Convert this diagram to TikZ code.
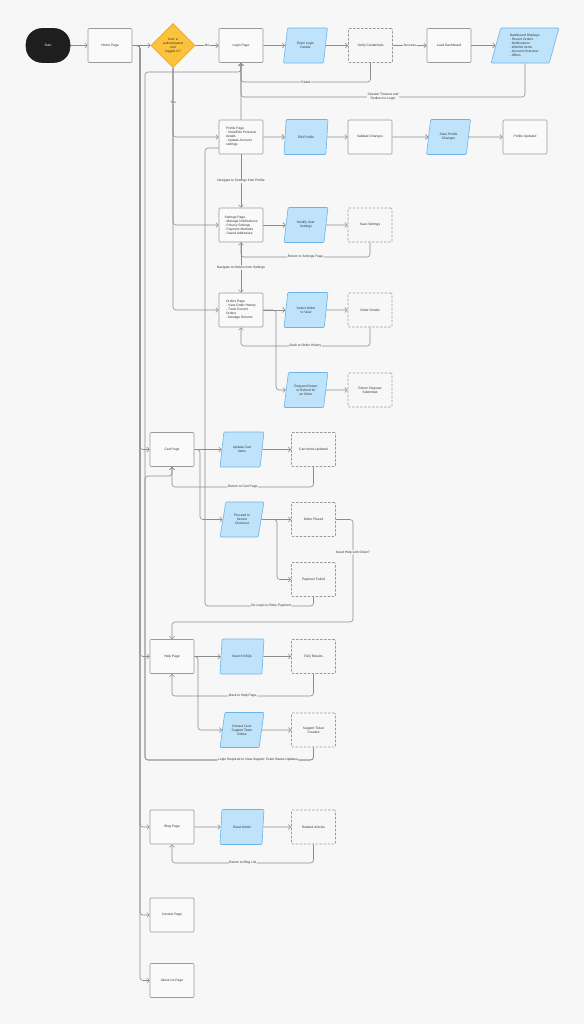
\documentclass[tikz,border=0pt]{standalone}
\usepackage{fontspec}
\setmainfont{Liberation Sans}
\usetikzlibrary{shapes.geometric,arrows.meta}
\pgfdeclarelayer{canvas}
\pgfdeclarelayer{edges}
\pgfsetlayers{canvas,edges,main}
\definecolor{bgc}{HTML}{F7F7F7}
\definecolor{boxf}{HTML}{FAFAFA}
\definecolor{boxc}{HTML}{9A9A9A}
\definecolor{iof}{HTML}{BEE3FA}
\definecolor{ioc}{HTML}{6CB4E8}
\definecolor{decf}{HTML}{FBC23B}
\definecolor{decc}{HTML}{EBA722}
\definecolor{startc}{HTML}{1E1E1E}
\definecolor{edgec}{HTML}{8C8C8C}
\definecolor{txt}{HTML}{333333}
\newcommand\diafont{\fontsize{3.3}{4}\selectfont}
\begin{document}
\begin{tikzpicture}[x=1pt,y=-1pt,
  box/.style={draw=boxc, fill=boxf, line width=0.6pt, rounded corners=1pt,
    minimum width=44pt, minimum height=34pt, inner sep=1pt, font=\diafont,
    text=txt, align=center},
  lbox/.style={box, align=left},
  dbox/.style={box, fill=bgc, dash pattern=on 2.5pt off 1.5pt},
  startnode/.style={box, fill=startc, draw=startc, text=white, rounded corners=16pt},
  io/.style={trapezium, trapezium left angle=75, trapezium right angle=105,
    trapezium stretches=true, draw=ioc, fill=iof, line width=0.6pt,
    rounded corners=1pt, minimum width=44pt, minimum height=35pt,
    inner sep=0.5pt, font=\diafont, align=center, text=txt},
  dec/.style={diamond, aspect=1, draw=decc, fill=decf, line width=0.6pt,
    minimum width=44pt, minimum height=44pt, inner sep=0pt, font=\diafont,
    align=center, text=txt},
  edge/.style={draw=edgec, line width=0.6pt, rounded corners=3pt,
    -{Straight Barb[length=2.5pt,width=5pt]}},
  lbl/.style={fill=bgc, inner sep=0.6pt, font=\diafont, text=txt, align=center}]
\useasboundingbox (0,0) rectangle (584,1024);
\begin{pgfonlayer}{canvas}
\fill[bgc] (0,0) rectangle (584,1024);
\end{pgfonlayer}

% top row
\node[startnode] (start) at (48,45.5) {Start};
\node[box] (home) at (110,45.5) {Home Page};
\node[dec] (dec) at (173,45.5) {User is\\authenticated\\and\\logged in?};
\node[box] (login) at (241,45.5) {Login Page};
\node[io] (creds) at (305.5,45.5) {Enter Login\\Details};
\node[dbox] (verify) at (370.5,45.5) {Verify Credentials};
\node[box] (loaddash) at (449,45.5) {Load Dashboard};
\node[io, minimum width=68pt, align=left] (dashlist) at (525,45.5)
  {Dashboard Displays:\\ - Recent Orders\\- Notifications\\- Wishlist Items\\- Account Overview\\ - Offers};

% profile row
\node[lbox] (profile) at (241,137) {Profile Page\\- View/Edit Personal\\details\\- Update Account\\settings};
\node[io] (editprof) at (306,137) {Edit Profile};
\node[box] (validate) at (370,137) {Validate Changes};
\node[io] (saveprof) at (448.5,137) {Save Profile\\Changes};
\node[box] (updated) at (525,137) {Profile Updated};

% settings row
\node[lbox] (settings) at (241,225) {Settings Page\\- Manage Notifications\\- Privacy Settings\\- Payment Methods\\- Saved Addresses};
\node[io] (modify) at (306,225) {Modify User\\Settings};
\node[dbox] (saveset) at (370,225) {Save Settings};

% orders row
\node[lbox] (orders) at (241,310) {Orders Page\\- View Order History\\- Track Current\\Orders\\- Manage Returns};
\node[io] (select) at (306,310) {Select Order\\to View};
\node[dbox] (details) at (370,310) {Order Details};
\node[io] (returnreq) at (306,390) {Request Return\\or Refund for\\an Order};
\node[dbox] (submitted) at (370,390) {Return Request\\Submitted};

% cart row
\node[box] (cart) at (172,449.5) {Cart Page};
\node[io] (update) at (242,449.5) {Update Cart\\Items};
\node[dbox] (cartupd) at (313.5,449.5) {Cart Items Updated};
\node[io] (checkout) at (242,519.5) {Proceed to\\Secure\\Checkout};
\node[dbox] (placed) at (313.5,519.5) {Order Placed};
\node[dbox] (payfail) at (313.5,579.5) {Payment Failed};

% help row
\node[box] (help) at (172,656.5) {Help Page};
\node[io] (search) at (242,656.5) {Search FAQs};
\node[dbox] (results) at (313.5,656.5) {FAQ Results};
\node[io] (contactsup) at (242,730) {Contact Cust.\\Support Team\\Online};
\node[dbox] (ticket) at (313.5,730) {Support Ticket\\Created};

% blog row
\node[box] (blog) at (172,827) {Blog Page};
\node[io] (read) at (242,827) {Read Article};
\node[dbox] (related) at (313.5,827) {Related Articles};

\node[box] (contact) at (172,915) {Contact Page};
\node[box] (about) at (172,980.5) {About Us Page};

\begin{pgfonlayer}{edges}
% top row
\draw[edge] (start) -- (home);
\draw[edge] (home) -- (dec);
\draw[edge] (dec) -- node[lbl]{No} (login);
\draw[edge] (login) -- (creds);
\draw[edge] (creds) -- (verify);
\draw[edge] (verify) -- node[lbl]{Success} (loaddash);
\draw[edge] (loaddash) -- (dashlist);
\draw[edge] (verify.south) -- (370.5,82) -- node[lbl]{Failed} (241,82) -- (login.south);
\draw[edge] (dashlist.south) -- (525,97) -- node[lbl]{Session Timeout and\\Redirect to Login} (241,97) -- (login.south);

% yes branches
\draw[edge] (dec.south) -- node[lbl]{Yes} (173,137) -- (profile.west);
\draw[edge] (dec.south) |- (settings.west);
\draw[edge] (dec.south) |- (orders.west);

% home branches
\draw[edge] (home.east) -- (140,45.5) |- (cart.west);
\draw[edge] (home.east) -- (140,45.5) |- (help.west);
\draw[edge] (home.east) -- (140,45.5) |- (blog.west);
\draw[edge] (home.east) -- (140,45.5) |- (contact.west);
\draw[edge] (home.east) -- (140,45.5) |- (about.west);

% profile row
\draw[edge] (profile) -- (editprof);
\draw[edge] (editprof) -- (validate);
\draw[edge] (validate) -- (saveprof);
\draw[edge] (saveprof) -- (updated);
\draw[edge] (profile) -- node[lbl]{Navigate to Settings from Profile} (settings);

% settings row
\draw[edge] (settings) -- (modify);
\draw[edge] (modify) -- (saveset);
\draw[edge] (saveset.south) -- (370,257) -- node[lbl]{Return to Settings Page} (241,257) -- (settings.south);
\draw[edge] (settings) -- node[lbl]{Navigate to Orders from Settings} (orders);

% orders row
\draw[edge] (orders) -- (select);
\draw[edge] (select) -- (details);
\draw[edge] (details.south) -- (370,346) -- node[lbl]{Back to Order History} (241,346) -- (orders.south);
\draw[edge] (orders.east) -- (276,310) |- (returnreq.west);
\draw[edge] (returnreq) -- (submitted);

% cart row
\draw[edge] (cart) -- (update);
\draw[edge] (update) -- (cartupd);
\draw[edge] (cartupd.south) -- (313.5,487) -- node[lbl]{Return to Cart Page} (172,487) -- (cart.south);
\draw[edge] (cart.east) -- (200,449.5) |- (checkout.west);
\draw[edge] (checkout) -- (placed);
\draw[edge] (checkout.east) -- (277,519.5) |- (payfail.west);
\draw[edge] (placed.east) -- (353,519.5) -- node[lbl,pos=0.32]{Need Help with Order?} (353,622) -- (172,622) -- (help.north);
\draw[edge] (payfail.south) -- (313.5,606) -- node[lbl,pos=0.39]{Re-Login to Retry Payment} (205,606) -- (205,148) -- (241,148) -- (login.south);

% help row
\draw[edge] (help) -- (search);
\draw[edge] (search) -- (results);
\draw[edge] (results.south) -- (313.5,696) -- node[lbl]{Back to Help Page} (172,696) -- (help.south);
\draw[edge] (help.east) -- (198,656.5) |- (contactsup.west);
\draw[edge] (contactsup) -- (ticket);
\draw[edge] (ticket.south) -- (313.5,760) -- (145,760) -- (145,476) -- (172,476) -- (cart.south);
\draw[edge] (ticket.south) -- (313.5,760) -- node[lbl,pos=0.33]{Login Required to View Support Ticket Status Updates} (145,760) -- (145,72) -- (241,72) -- (login.south);

% blog row
\draw[edge] (blog) -- (read);
\draw[edge] (read) -- (related);
\draw[edge] (related.south) -- (313.5,863) -- node[lbl]{Return to Blog List} (172,863) -- (blog.south);
\end{pgfonlayer}
\end{tikzpicture}
\end{document}
